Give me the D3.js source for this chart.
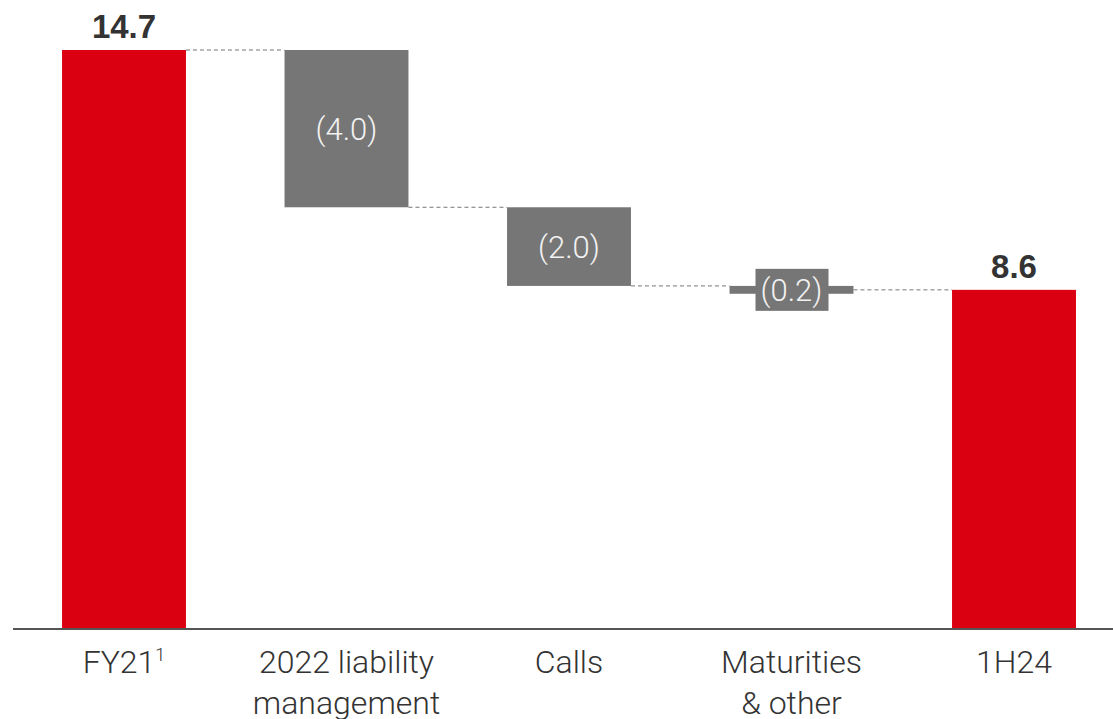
<!DOCTYPE html>
<html lang="en">
<head>
<meta charset="UTF-8">
<title>Waterfall</title>
<script src="https://d3js.org/d3.v7.min.js"></script>
<style>
    body {
    margin: 0;
    background-color: white;
    }
    .cat {
    font-family: Roboto, "Liberation Sans", sans-serif;
    font-weight: 300;
    font-size: 32px;
    fill: #333;
    text-anchor: middle;
    }
    .total-label {
    font-family: "Liberation Sans", Arial, sans-serif;
    font-weight: bold;
    font-size: 33px;
    fill: #333;
    text-anchor: middle;
    }
    .delta-label {
    font-family: Roboto, "Liberation Sans", sans-serif;
    font-weight: 300;
    font-size: 31px;
    fill: #f2f2f2;
    text-anchor: middle;
    }
    .connector {
    stroke: #777;
    stroke-width: 1px;
    stroke-dasharray: 4 3;
    fill: none;
    }
</style>
</head>
<body>
<svg id="chart" width="1113" height="719"></svg>
<script>
    const width = 1113;
    const height = 719;

    const categories = ["FY21", "2022 liability management", "Calls", "Maturities & other", "1H24"];
    const labelLines = [["FY21"], ["2022 liability", "management"], ["Calls"], ["Maturities", "& other"], ["1H24"]];
    const values = [14.7, -4.0, -2.0, -0.2, 8.6];
    const kinds = ["total", "delta", "delta", "delta", "total"];
    const valueLabels = ["14.7", "(4.0)", "(2.0)", "(0.2)", "8.6"];

    const red = "#db0011";
    const grey = "#767676";

    const svg = d3.select("#chart");

    const x = d3.scaleBand()
      .domain(categories)
      .range([12.75, 1125.25])
      .paddingInner(0.443)
      .paddingOuter(0.2215);

    const y = d3.scaleLinear()
      .domain([0, 14.7])
      .range([628, 50]);

    // build waterfall bars
    let running = 0;
    const bars = categories.map((c, i) => {
      let y0, y1;
      if (kinds[i] === "total") {
        y0 = 0; y1 = values[i]; running = values[i];
      } else {
        y0 = running; y1 = running + values[i]; running = y1;
      }
      return {cat: c, i: i, y0: y0, y1: y1, kind: kinds[i], label: valueLabels[i]};
    });

    // connectors
    for (let i = 0; i < bars.length - 1; i++) {
      const next = bars[i + 1];
      const level = next.kind === "total" ? next.y1 : next.y0;
      svg.append("line")
        .attr("class", "connector")
        .attr("x1", x(bars[i].cat) + x.bandwidth())
        .attr("x2", x(next.cat))
        .attr("y1", y(level))
        .attr("y2", y(level));
    }

    // bars
    svg.selectAll(".bar")
      .data(bars)
      .enter()
      .append("rect")
      .attr("class", "bar")
      .attr("x", d => x(d.cat))
      .attr("width", x.bandwidth())
      .attr("y", d => y(Math.max(d.y0, d.y1)))
      .attr("height", d => Math.abs(y(d.y0) - y(d.y1)))
      .attr("fill", d => d.kind === "total" ? red : grey);

    // axis line
    svg.append("line")
      .attr("x1", 13)
      .attr("x2", width)
      .attr("y1", 629)
      .attr("y2", 629)
      .attr("stroke", "#555")
      .attr("stroke-width", 2);

    // value labels
    bars.forEach(d => {
      const cx = x(d.cat) + x.bandwidth() / 2;
      if (d.kind === "total") {
        svg.append("text")
          .attr("class", "total-label")
          .attr("x", cx)
          .attr("y", y(d.y1) - 12)
          .text(d.label);
      } else {
        const mid = (y(d.y0) + y(d.y1)) / 2;
        const h = Math.abs(y(d.y0) - y(d.y1));
        if (h < 40) {
          // small step: label sits on its own grey box
          svg.append("rect")
            .attr("x", cx - 36)
            .attr("y", mid - 21)
            .attr("width", 73)
            .attr("height", 42)
            .attr("fill", grey);
        }
        svg.append("text")
          .attr("class", "delta-label")
          .attr("x", cx)
          .attr("y", mid + 11)
          .text(d.label);
      }
    });

    // category labels
    labelLines.forEach((lines, i) => {
      const cx = x(categories[i]) + x.bandwidth() / 2;
      const t = svg.append("text")
        .attr("class", "cat")
        .attr("x", cx)
        .attr("y", 673);
      lines.forEach((ln, j) => {
        t.append("tspan")
          .attr("x", cx)
          .attr("dy", j === 0 ? 0 : 41)
          .text(ln);
        if (i === 0) {
          t.append("tspan")
            .attr("font-size", "18px")
            .attr("dy", -12)
            .text("1");
        }
      });
    });
</script>
</body>
</html>
